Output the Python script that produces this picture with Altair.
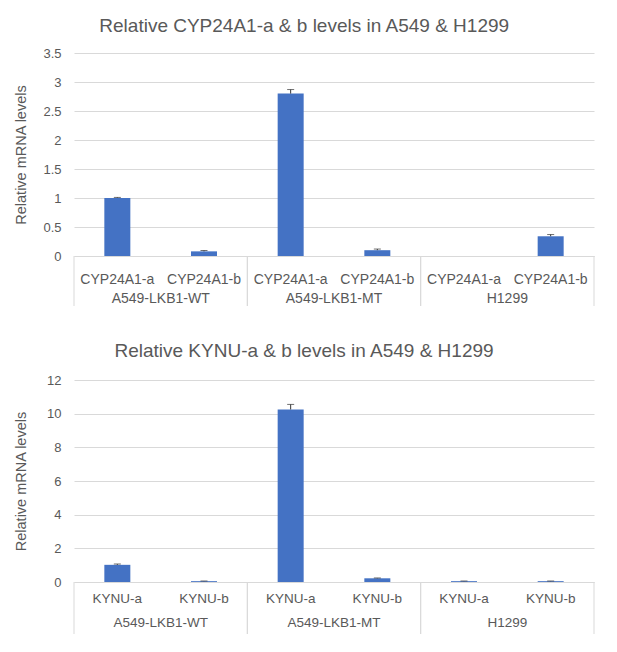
import altair as alt
import pandas as pd

groups = ["A549-LKB1-WT", "A549-LKB1-MT", "H1299"]

cyp_title = "Relative CYP24A1-a & b levels in A549 & H1299"
cyp_genes = ["CYP24A1-a", "CYP24A1-b"]
cyp_values = [1.00, 0.08, 2.80, 0.10, 0.0, 0.34]
cyp_errors = [0.01, 0.015, 0.07, 0.02, 0.0, 0.03]
cyp_ticks = [0, 0.5, 1, 1.5, 2, 2.5, 3, 3.5]

kynu_title = "Relative KYNU-a & b levels in A549 & H1299"
kynu_genes = ["KYNU-a", "KYNU-b"]
kynu_values = [1.02, 0.05, 10.25, 0.22, 0.05, 0.05]
kynu_errors = [0.05, 0.01, 0.30, 0.02, 0.01, 0.01]
kynu_ticks = [0, 2, 4, 6, 8, 10, 12]

y_title = "Relative mRNA levels"

FONT = "Liberation Sans"
TXT = "#595959"
GRID = "#D9D9D9"
BAR = "#4472C4"
ERR = "#333333"


def panel(title, genes, values, errors, ticks, width, height, cat_dy, grp_dy,
          line_len, cat_size, title_offset, ytitle_pad):
    rows = []
    i = 0
    for g in groups:
        for c in genes:
            rows.append({"group": g, "gene": c, "key": g + "|" + c,
                         "value": values[i], "upper": values[i] + errors[i]})
            i += 1
    df = pd.DataFrame(rows)
    keys = list(df["key"])
    gdf = pd.DataFrame({"group": groups})

    xs = alt.Scale(type="band", domain=keys, paddingInner=0.7, paddingOuter=0.35)
    ys = alt.Scale(domain=[ticks[0], ticks[-1]], nice=False)
    yaxis = alt.Axis(values=ticks, format="~g", title=y_title,
                     ticks=False, domain=False, grid=True,
                     labelOverlap=False,
                     gridColor=GRID, labelColor=TXT, labelFont=FONT,
                     labelFontSize=13, labelPadding=13,
                     titleColor=TXT, titleFont=FONT, titleFontSize=14.5,
                     titleFontWeight="normal", titlePadding=ytitle_pad)
    xaxis = alt.Axis(labels=False, ticks=False, title=None,
                     domainColor=GRID, domainWidth=1, grid=False)
    base = alt.Chart(df)

    bars = base.mark_bar(color=BAR).encode(
        x=alt.X("key:N", scale=xs, sort=keys, axis=xaxis),
        y=alt.Y("value:Q", scale=ys, axis=yaxis),
    )
    stem = base.transform_filter("datum.upper > datum.value").mark_rule(
        color=ERR, strokeWidth=1).encode(
        x=alt.X("key:N", scale=xs, sort=keys, axis=xaxis),
        y=alt.Y("value:Q", scale=ys, axis=yaxis),
        y2="upper:Q",
    )
    cap = base.transform_filter("datum.upper > datum.value").mark_tick(
        color=ERR, thickness=1, size=7, orient="horizontal").encode(
        x=alt.X("key:N", scale=xs, sort=keys, axis=xaxis),
        y=alt.Y("upper:Q", scale=ys, axis=yaxis),
    )
    cats = base.mark_text(font=FONT, fontSize=cat_size, color=TXT,
                          baseline="middle").encode(
        x=alt.X("key:N", scale=xs, sort=keys, axis=xaxis),
        y=alt.value(height + cat_dy),
        text="gene:N",
    )
    inner = alt.layer(bars, stem, cap, cats)

    gs = alt.Scale(type="band", domain=groups, paddingInner=0, paddingOuter=0)
    gtext = alt.Chart(gdf).mark_text(font=FONT, fontSize=cat_size, color=TXT,
                                     baseline="middle").encode(
        x=alt.X("group:N", scale=gs, sort=groups, axis=None),
        y=alt.value(height + grp_dy),
        text="group:N",
    )
    lines_l = alt.Chart(gdf).mark_rule(color=GRID, strokeWidth=1).encode(
        x=alt.X("group:N", scale=gs, sort=groups, axis=None, bandPosition=0),
        y=alt.value(height),
        y2=alt.value(height + line_len),
    )
    lines_r = alt.Chart(gdf).mark_rule(color=GRID, strokeWidth=1).encode(
        x=alt.X("group:N", scale=gs, sort=groups, axis=None, bandPosition=1),
        y=alt.value(height),
        y2=alt.value(height + line_len),
    )
    return alt.layer(inner, gtext, lines_l, lines_r).resolve_scale(
        x="independent").properties(
        width=width, height=height,
        title=alt.TitleParams(title, font=FONT, fontSize=19, color=TXT,
                              fontWeight="normal", anchor="middle",
                              frame="bounds", offset=title_offset),
    )


top = panel(cyp_title, cyp_genes, cyp_values, cyp_errors, cyp_ticks,
            520, 203, 24, 43, 50, 14, 11, 14)
bottom = panel(kynu_title, kynu_genes, kynu_values, kynu_errors, kynu_ticks,
               520, 202, 17, 41, 52, 13.5, 13, 18)

chart = alt.vconcat(top, bottom, spacing=35).configure_view(
    stroke=None).properties(padding={"left": 5, "top": 9, "right": 5, "bottom": 5})
chart.save("out.html", embed_options={"renderer": "svg", "actions": False})
